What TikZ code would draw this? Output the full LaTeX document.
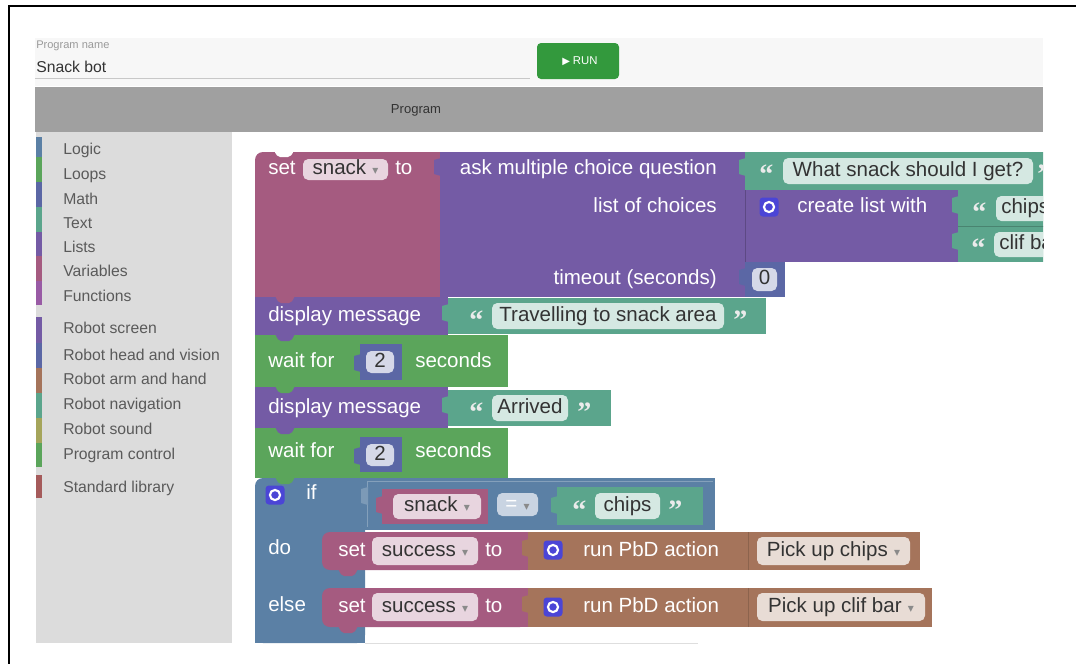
\documentclass[tikz,border=0pt]{standalone}
\usepackage{fontspec}
\setmainfont{Liberation Sans}
\newfontfamily\symfont{DejaVu Sans}
\newfontfamily\quotefont{Liberation Serif}

% Blockly category colours
\definecolor{varred}{HTML}{A55B80}
\definecolor{listpurple}{HTML}{745BA5}
\definecolor{textgreen}{HTML}{5BA58C}
\definecolor{loopgreen}{HTML}{5BA55B}
\definecolor{mathblue}{HTML}{5B67A5}
\definecolor{logicblue}{HTML}{5B80A5}
\definecolor{robotbrown}{HTML}{A5745B}
\definecolor{funcpurple}{HTML}{995BA5}
\definecolor{soundolive}{HTML}{A5A55B}
\definecolor{stdred}{HTML}{A55B5B}
\definecolor{gearblue}{HTML}{4B45D6}
% page chrome
\definecolor{hdrbg}{HTML}{F7F7F7}
\definecolor{bargray}{HTML}{A0A0A0}
\definecolor{sidegray}{HTML}{DCDCDC}
\definecolor{rungreen}{HTML}{33993D}
\definecolor{textdark}{HTML}{333333}
\definecolor{labelgray}{HTML}{9A9A9A}
\definecolor{sidetext}{HTML}{5A5A5A}
\definecolor{linegray}{HTML}{C8C8C8}
\definecolor{ddgray}{HTML}{8A8A8A}
\definecolor{eqbg}{HTML}{C9D4E2}

\newcommand\bfnt{\fontsize{15.4}{18}\selectfont}
\newcommand\dd{\hspace{0.3em}{\symfont\fontsize{9}{9}\selectfont\textcolor{ddgray}{▾}}}

\tikzset{
  wt/.style={text=white, font=\bfnt, anchor=west, inner sep=0pt, text height=11pt, text depth=3.5pt},
  wtr/.style={wt, anchor=east},
  fld/.style={text=textdark, font=\bfnt, inner sep=0pt, text height=11pt, text depth=3.5pt},
  qm/.style={text=white!92!black, font=\quotefont\bfseries\fontsize{21}{21}\selectfont, anchor=west, inner sep=0pt, text height=11pt, text depth=3.5pt, yshift=-6pt},
  pillbg/.style={fill=white, fill opacity=0.75, rounded corners=4pt},
  side/.style={text=sidetext, font=\fontsize{11.8}{13}\selectfont, anchor=west, inner sep=0pt, text height=8.5pt, text depth=2.5pt},
  seam/.style={line width=0.5pt},
}

% value-input tab poking left of a value block at (x, top)
\newcommand\vtab[3]{\fill[#1] (#2+1,#3+6) -- (#2-6,#3+8) -- (#2-6,#3+22) -- (#2+1,#3+24) -- cycle;}
% next-statement bump below a statement block at (x, bottom)
\newcommand\bump[3]{\fill[#1, rounded corners=1.5pt] (#2,#3-1) -- (#2+4,#3+6) -- (#2+16,#3+6) -- (#2+20,#3-1) -- cycle;}
% editable field: name, x1, y1, x2, y2, text
\newcommand\pill[6]{\fill[pillbg] (#2,#3) rectangle (#4,#5);
  \node[fld] (#1) at ({(#2+#4)/2},{(#3+#5)/2}) {#6};}
% mutator gear icon centred at (x, y)
\newcommand\gear[3]{\fill[gearblue, rounded corners=2.5pt] (#2-9.5,#3-9.5) rectangle (#2+9.5,#3+9.5);
  \draw[white, line width=1.6pt] (#2,#3) circle (3.8pt);
  \coordinate (#1) at (#2,#3);}

\begin{document}
\begin{tikzpicture}[x=0.75pt, y=-0.75pt]
\useasboundingbox (0,0) rectangle (1076,664);
\fill[white] (0,0) rectangle (1076,664);

% frame
\draw[black, line width=1.5pt] (8.5,664) -- (8.5,6) -- (1076,6);

% ---------- header ----------
\fill[hdrbg] (35,38) rectangle (1043,86);
\node[text=labelgray, font=\fontsize{8.3}{10}\selectfont, anchor=west, inner sep=0pt] (pnlabel) at (36,46) {Program name};
\node[text=textdark, font=\fontsize{11.8}{14}\selectfont, anchor=west, inner sep=0pt] (pname) at (36,67) {Snack bot};
\draw[linegray, line width=0.8pt] (35,78.5) -- (530,78.5);
\fill[rungreen, rounded corners=3pt] (537,43) rectangle (619,79);
\node[text=white, font=\fontsize{8.5}{10}\selectfont, inner sep=0pt] (run) at (580,61) {{\symfont\fontsize{7.5}{9}\selectfont ▶}\hspace{0.25em}RUN};

\fill[bargray] (35,87) rectangle (1043,132);
\node[text=textdark, font=\fontsize{9.8}{12}\selectfont, inner sep=0pt] (ptitle) at (416,110) {Program};

% ---------- toolbox ----------
\fill[sidegray] (36,132) rectangle (232,643);
\foreach \col/\ya/\yb/\yc/\lab in {
  logicblue/137/157/150/Logic,
  loopgreen/157/182/175/Loops,
  mathblue/182/207/200/Math,
  textgreen/207/232/224/Text,
  listpurple/232/256/248/Lists,
  varred/256/281/272/Variables,
  funcpurple/281/305/297/Functions,
  listpurple/317/343/329/Robot screen,
  mathblue/343/368/356/Robot head and vision,
  robotbrown/368/393/380/Robot arm and hand,
  textgreen/393/418/405/Robot navigation,
  soundolive/418/443/430/Robot sound,
  loopgreen/443/467/455/Program control,
  stdred/475/498/488/Standard library}{
  \fill[\col] (36,\ya) rectangle (42,\yb);
  \node[side] at (63,\yc) {\lab};
}

% ---------- workspace ----------
\begin{scope}
\clip (232,132) rectangle (1043,643);

% set snack to ...
\fill[varred, rounded corners=6pt] (255,152) rectangle (440,297);
\fill[varred] (300,152) rectangle (440,297);
\fill[varred] (255,200) rectangle (440,297);
\fill[white, rounded corners=1.5pt] (274,151) -- (278,157) -- (290,157) -- (294,151) -- cycle;
\node[wt] (set1) at (268,169) {set};
\pill{snackvar}{303}{159}{388}{180}{snack\dd}
\node[wt] (to1) at (395,169) {to};

% ask multiple choice question
\fill[listpurple] (440,152) rectangle (745,297);
\vtab{listpurple}{440}{152}
\node[wtr] (ask) at (717,169) {ask multiple choice question};
\node[wtr] (choices) at (717,207) {list of choices};
\node[wtr] (timeout) at (717,279) {timeout (seconds)};

% question text
\fill[textgreen] (745,152) rectangle (1060,190);
\vtab{textgreen}{745}{152}
\node[qm] (q1o) at (759,170) {“};
\pill{question}{783}{158}{1033}{184}{What snack should I get?}
\node[qm] (q1c) at (1037,170) {”};

% create list with
\fill[listpurple] (745,190) rectangle (958,262);
\vtab{listpurple}{745}{190}
\draw[listpurple!80!black, seam] (745,190) -- (745,262);
\gear{g1}{769}{207}
\node[wt] (mklist) at (797,207) {create list with};

\fill[textgreen] (958,190) rectangle (1060,226);
\vtab{textgreen}{958}{190}
\node[qm] (q2o) at (972,208) {“};
\fill[pillbg] (996,196) rectangle (1070,221);
\node[fld, anchor=west] (item1) at (1001,208.5) {chips};

\fill[textgreen] (958,226) rectangle (1060,262);
\vtab{textgreen}{958}{226}
\draw[textgreen!80!black, seam] (958,226) -- (1060,226);
\node[qm] (q3o) at (971,244) {“};
\fill[pillbg] (994,232) rectangle (1070,257);
\node[fld, anchor=west] (item2) at (999,244.5) {clif bar};

% timeout value
\fill[mathblue] (745,262) rectangle (785,297);
\vtab{mathblue}{745}{262}
\pill{tval}{752}{268}{777}{291}{0}

% display message "Travelling to snack area"
\fill[listpurple] (255,297) rectangle (448,335);
\node[wt] (disp1) at (268,316) {display message};
\fill[textgreen] (448,298) rectangle (766,334);
\vtab{textgreen}{448}{298}
\node[qm] (q4o) at (469,316) {“};
\pill{msg1}{492}{303}{724}{329}{Travelling to snack area}
\node[qm] (q4c) at (733,316) {”};

% wait for 2 seconds
\fill[loopgreen] (255,335) rectangle (508,387);
\node[wt] (wait1) at (268,362) {wait for};
\fill[mathblue] (360,344) rectangle (402,380);
\vtab{mathblue}{360}{348}
\pill{w1}{366}{351}{394}{373}{2}
\node[wt] (sec1) at (415,362) {seconds};

% display message "Arrived"
\fill[listpurple] (255,387) rectangle (448,428);
\node[wt] (disp2) at (268,408) {display message};
\fill[textgreen] (448,390) rectangle (611,426);
\vtab{textgreen}{448}{390}
\node[qm] (q5o) at (469,408) {“};
\pill{msg2}{492}{395}{568}{421}{Arrived}
\node[qm] (q5c) at (577,408) {”};

% wait for 2 seconds
\fill[loopgreen] (255,428) rectangle (508,478);
\node[wt] (wait2) at (268,452) {wait for};
\fill[mathblue] (360,437) rectangle (402,472);
\vtab{mathblue}{360}{441}
\pill{w2}{366}{444}{394}{466}{2}
\node[wt] (sec2) at (415,452) {seconds};

% if / do / else
\fill[logicblue, rounded corners=6pt] (255,478) rectangle (365,643);
\fill[logicblue] (300,478) rectangle (365,643);
\fill[logicblue] (255,520) rectangle (365,643);
\fill[logicblue] (365,478) rectangle (715,530);
\gear{g2}{275}{495}
\node[wt] (kwif) at (306,494) {if};
\node[wt] (kwdo) at (268,549) {do};
\node[wt] (kwelse) at (268,606) {else};

% snack = "chips"
\fill[logicblue] (367,481) rectangle (713,527);
\draw[logicblue!75!white, seam] (713,481) -- (367,481) -- (367,527);
\fill[logicblue!80!white] (368,487) -- (361,489) -- (361,503) -- (368,505) -- cycle;
\fill[varred] (382,489) rectangle (488,524);
\vtab{varred}{382}{490}
\pill{cmpvar}{393}{494}{481}{519}{snack\dd}
\fill[eqbg, rounded corners=4pt] (497,493) rectangle (538,516);
\node[fld, text=white] (eqop) at (517.5,505) {=\dd};
\fill[textgreen] (557,487) rectangle (703,525);
\vtab{textgreen}{557}{490}
\node[qm] (q6o) at (572,506) {“};
\pill{cmptxt}{595}{493}{660}{519}{chips}
\node[qm] (q6c) at (668,506) {”};

% do: set success to run PbD action "Pick up chips"
\fill[varred, rounded corners=6pt] (322,532) rectangle (528,570);
\fill[varred] (360,532) rectangle (528,570);
\node[wt] (set2) at (338,551) {set};
\pill{succ1}{372}{537}{478}{565}{success\dd}
\node[wt] (to2) at (485,551) {to};
\fill[robotbrown] (528,532) rectangle (920,570);
\vtab{robotbrown}{528}{533}
\draw[robotbrown!85!black, seam] (748,532) -- (748,570);
\gear{g3}{553}{550}
\node[wt] (pbd1) at (583,551) {run PbD action};
\pill{act1}{757}{537}{910}{565}{Pick up chips\dd}

% else: set success to run PbD action "Pick up clif bar"
\fill[varred, rounded corners=6pt] (322,588) rectangle (528,627);
\fill[varred] (360,588) rectangle (528,627);
\node[wt] (set3) at (338,607) {set};
\pill{succ2}{372}{593}{478}{621}{success\dd}
\node[wt] (to3) at (485,607) {to};
\fill[robotbrown] (528,588) rectangle (932,627);
\vtab{robotbrown}{528}{589}
\draw[robotbrown!85!black, seam] (748,588) -- (748,627);
\gear{g4}{553}{607}
\node[wt] (pbd2) at (583,607) {run PbD action};
\pill{act2}{757}{593}{925}{621}{Pick up clif bar\dd}

% statement connection bumps
\bump{varred}{275}{297}
\bump{listpurple}{275}{335}
\bump{loopgreen}{275}{387}
\bump{listpurple}{275}{428}
\bump{loopgreen}{275}{478}
\bump{varred}{338}{570}
\bump{varred}{338}{627}

\draw[linegray!60!white, line width=0.6pt] (365,643) -- (698,643);
\end{scope}
\end{tikzpicture}
\end{document}
